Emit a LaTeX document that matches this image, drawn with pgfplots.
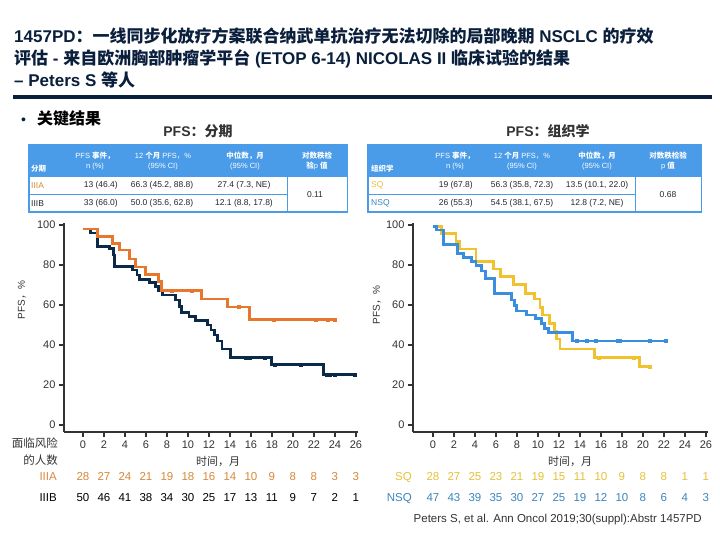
\documentclass[border=0pt]{standalone}
\usepackage{pgfplots}
\pgfplotsset{compat=1.18}
\usepackage{fontspec}
\setmainfont{Liberation Sans}
\newfontfamily\cjkf{Noto Sans CJK SC}
\newcommand\zh[1]{{\cjkf #1}}
\definecolor{navy}{HTML}{0B2A4A}
\definecolor{titlec}{HTML}{0A1F3C}
\definecolor{orangeA}{HTML}{E8772E}
\definecolor{nsq}{HTML}{3A8EE0}
\definecolor{sq}{HTML}{F2C12E}
\definecolor{tblue}{HTML}{4A9BE8}
\definecolor{axgray}{HTML}{333333}
\definecolor{iiiaText}{HTML}{D8893A}
\definecolor{sqText}{HTML}{E6C13A}
\definecolor{nsqText}{HTML}{3A86BE}
\pgfplotsset{kmaxis/.style={scale only axis, height=209pt, ymin=-3.5, ymax=101,
  axis lines=left, axis line style={-, line width=2.8pt, color=axgray},
  xtick={0,2,...,26}, ytick={0,20,...,100}, major tick length=5pt, tick align=outside,
  tick style={line width=2.2pt, color=axgray},
  tick label style={font=\fontsize{11}{11}\selectfont, text=axgray},
  /pgf/number format/assume math mode=true, clip=false,
  every axis plot/.append style={const plot}},
  risk/.style={draw=none, mark=none, nodes near coords, point meta=explicit symbolic,
  every node near coord/.append style={anchor=base, inner sep=0pt, text height=8pt, text depth=0pt, yshift=0pt, font=\fontsize{11.5}{11.5}\selectfont, text=#1}}}
\begin{document}
\begin{tikzpicture}[x=1pt,y=-1pt]
\path[use as bounding box] (0,0) rectangle (720,540);
\fill[white] (0,0) rectangle (720,540);
% title
\begin{scope}[every node/.style={anchor=base west, inner sep=0, text=titlec, font=\fontsize{17}{22}\selectfont\bfseries}]
\node at (14,43) {1457PD\zh{：一线同步化放疗方案联合纳武单抗治疗无法切除的局部晚期} NSCLC \zh{的疗效}};
\node at (14,65) {\zh{评估} - \zh{来自欧洲胸部肿瘤学平台} (ETOP 6-14) NICOLAS II \zh{临床试验的结果}};
\node at (14,87) {– Peters S \zh{等人}};
\end{scope}
\fill[titlec] (13,95) rectangle (712,99);
\node[anchor=base west, inner sep=0, font=\fontsize{14}{14}\selectfont, text=titlec] at (21,125) {•};
\node[anchor=base west, inner sep=0, font=\fontsize{16}{16}\selectfont\bfseries, text=black] at (37,125) {\zh{关键结果}};
\node[font=\fontsize{14}{14}\selectfont\bfseries, text=axgray] at (198,131) {PFS\zh{：分期}};
\node[font=\fontsize{14}{14}\selectfont\bfseries, text=axgray] at (548,131) {PFS\zh{：组织学}};
% left table
\fill[tblue] (28,144) rectangle (348,213);
\fill[white] (29.5,177) rectangle (286.5,194);
\fill[white] (29.5,195.5) rectangle (286.5,211.5);
\fill[white] (288,177) rectangle (346.5,211.5);
\begin{scope}[every node/.style={align=center, inner sep=0, text=white, font=\fontsize{7.5}{10}\selectfont}]
\node[anchor=base west] at (31,172) {\zh{\bfseries 分期}};
\node at (95,161) {PFS \zh{\bfseries 事件，}\\n (\%)};
\node at (163,161) {12 \zh{\bfseries 个月} PFS\zh{，}\%\\(95\% CI)};
\node at (245,161) {\zh{\bfseries 中位数，月}\\(95\% CI)};
\node at (317,161) {\zh{\bfseries 对数秩检}\\\zh{\bfseries 验}p \zh{\bfseries 值}};
\end{scope}
\begin{scope}[every node/.style={inner sep=0, text=black!85, font=\fontsize{8.5}{8.5}\selectfont}]
\node[anchor=west, text=iiiaText] at (31,185.5) {IIIA};
\node[anchor=east] at (118,185.5) {13 (46.4)};
\node at (162,185.5) {66.3 (45.2, 88.8)};
\node at (244,185.5) {27.4 (7.3, NE)};
\node[anchor=west] at (31,203.5) {IIIB};
\node[anchor=east] at (118,203.5) {33 (66.0)};
\node at (162,203.5) {50.0 (35.6, 62.8)};
\node at (244,203.5) {12.1 (8.8, 17.8)};
\node at (315,194.5) {0.11};
\end{scope}
% right table
\fill[tblue] (367,144) rectangle (702,213);
\fill[white] (368.5,177) rectangle (634.5,194);
\fill[white] (368.5,195.5) rectangle (634.5,211.5);
\fill[white] (636,177) rectangle (700.5,211.5);
\begin{scope}[every node/.style={align=center, inner sep=0, text=white, font=\fontsize{7.5}{10}\selectfont}]
\node[anchor=base west] at (371,172) {\zh{\bfseries 组织学}};
\node at (455,161) {PFS \zh{\bfseries 事件，}\\n (\%)};
\node at (522,161) {12 \zh{\bfseries 个月} PFS\zh{，}\%\\(95\% CI)};
\node at (597,161) {\zh{\bfseries 中位数，月}\\(95\% CI)};
\node at (668,161) {\zh{\bfseries 对数秩检验}\\p \zh{\bfseries 值}};
\end{scope}
\begin{scope}[every node/.style={inner sep=0, text=black!85, font=\fontsize{8.5}{8.5}\selectfont}]
\node[anchor=west, text=sqText] at (371,185.5) {SQ};
\node[anchor=east] at (473,185.5) {19 (67.8)};
\node at (522,185.5) {56.3 (35.8, 72.3)};
\node at (597,185.5) {13.5 (10.1, 22.0)};
\node[anchor=west, text=nsqText] at (371,203.5) {NSQ};
\node[anchor=east] at (473,203.5) {26 (55.3)};
\node at (522,203.5) {54.5 (38.1, 67.5)};
\node at (597,203.5) {12.8 (7.2, NE)};
\node at (668,194.5) {0.68};
\end{scope}
% labels
\node[rotate=90, font=\fontsize{10}{10}\selectfont, text=axgray] at (22,300) {PFS\zh{，}\%};
\node[rotate=90, font=\fontsize{10}{10}\selectfont, text=axgray] at (377,305) {PFS\zh{，}\%};
\node[font=\fontsize{11}{11}\selectfont, text=axgray] at (218,461) {\zh{时间，月}};
\node[font=\fontsize{11}{11}\selectfont, text=axgray] at (570,461) {\zh{时间，月}};
\node[anchor=east, align=right, font=\fontsize{11.5}{17}\selectfont, text=axgray, inner sep=0] at (58,452) {\zh{面临风险}\\\zh{的人数}};
\node[anchor=base east, font=\fontsize{11.5}{11.5}\selectfont, text=iiiaText, inner sep=0] at (57,480) {IIIA};
\node[anchor=base east, font=\fontsize{11.5}{11.5}\selectfont, text=black, inner sep=0] at (57,501) {IIIB};
\node[anchor=base east, font=\fontsize{11.5}{11.5}\selectfont, text=sqText, inner sep=0] at (412,480) {SQ};
\node[anchor=base east, font=\fontsize{11.5}{11.5}\selectfont, text=nsqText, inner sep=0] at (412,501) {NSQ};
\node[anchor=base east, font=\fontsize{11.5}{11.5}\selectfont, text=axgray, inner sep=0] at (702,522) {Peters S, et al. Ann Oncol 2019;30(suppl):Abstr 1457PD};
% left axis
\begin{axis}[kmaxis, at={(64pt,-432pt)}, anchor=south west, width=294pt, xmin=-1.8, xmax=26.2]
\addplot[navy, line width=2.9pt] coordinates {(0,98) (0.7,96) (1.4,89.3) (2.5,88.3) (2.9,85) (3.05,79.2) (4.7,77.5) (5.15,75) (5.4,72.8) (6.35,71.2) (6.9,69.2) (7.2,67) (7.55,65) (8.8,62.5) (9.2,59.2) (9.4,56.3) (10.1,54.2) (10.75,52.3) (11.85,50) (12.2,47.5) (12.5,45) (12.85,42) (13.25,38) (14.05,33.7) (18.0,30.3) (22.9,25.3) (25.9,25.3)};
\addplot[navy, only marks, mark=square*, mark size=1.5pt] coordinates {(15.5,33.7) (15.9,33.7) (17.3,33.7) (18.3,30.3) (20.75,30.3) (23.2,25.3) (23.5,25.3) (24.0,25.3) (25.85,25.3)};
\addplot[orangeA, line width=2.9pt] coordinates {(0,98) (1.4,94.3) (2.8,90.7) (3.5,87.5) (4.4,83) (5.0,79) (6.0,75.3) (7.2,71.7) (7.5,67.3) (11.3,63) (13.8,59) (15.9,52.8) (24.2,52.8)};
\addplot[orangeA, only marks, mark=square*, mark size=1.5pt] coordinates {(8.5,67.3) (10.4,67.3) (14.8,59) (18.2,52.8) (22.2,52.8) (23.3,52.8) (24.0,52.8)};
\addplot[risk=iiiaText] table[meta=n] {
x y n
0 -27.5 28
2 -27.5 27
4 -27.5 24
6 -27.5 21
8 -27.5 19
10 -27.5 18
12 -27.5 16
14 -27.5 14
16 -27.5 10
18 -27.5 9
20 -27.5 8
22 -27.5 8
24 -27.5 3
26 -27.5 3
};
\addplot[risk=black] table[meta=n] {
x y n
0 -38 50
2 -38 46
4 -38 41
6 -38 38
8 -38 34
10 -38 30
12 -38 25
14 -38 17
16 -38 13
18 -38 11
20 -38 9
22 -38 7
24 -38 2
26 -38 1
};
\end{axis}
% right axis
\begin{axis}[kmaxis, at={(413pt,-432pt)}, anchor=south west, width=295pt, xmin=-1.9, xmax=26.2]
\addplot[sq, line width=2.9pt] coordinates {(0,99.2) (0.8,95.8) (2.2,91.7) (2.5,88) (4.1,81.7) (5.8,78) (6.4,74.2) (7.7,70.3) (8.8,65.8) (9.7,63) (10.2,58.7) (10.4,55) (11.1,50.8) (11.6,47) (11.8,43) (12.1,38) (15.4,33.7) (19.7,29.2) (20.8,29.2)};
\addplot[sq, only marks, mark=square*, mark size=1.5pt] coordinates {(15.8,33.7) (19.1,33.7) (20.6,29.2)};
\addplot[nsq, line width=2.9pt] coordinates {(0,99.2) (0.3,97.5) (1.0,90.3) (2.3,85.8) (2.9,83.7) (3.7,81.7) (4.1,79.7) (4.6,77) (5.0,73.3) (5.9,65.8) (7.5,62.5) (7.8,59.7) (7.95,57) (8.9,55) (9.8,53.3) (10.3,50.8) (10.6,48.3) (11.0,46.3) (13.3,42) (22.2,42)};
\addplot[nsq, only marks, mark=square*, mark size=1.5pt] coordinates {(13.65,42) (14.6,42) (15.5,42) (17.6,42) (17.8,42) (20.6,42) (22.2,42)};
\addplot[risk=sqText] table[meta=n] {
x y n
0 -27.5 28
2 -27.5 27
4 -27.5 25
6 -27.5 23
8 -27.5 21
10 -27.5 19
12 -27.5 15
14 -27.5 11
16 -27.5 10
18 -27.5 9
20 -27.5 8
22 -27.5 8
24 -27.5 1
26 -27.5 1
};
\addplot[risk=nsqText] table[meta=n] {
x y n
0 -38 47
2 -38 43
4 -38 39
6 -38 35
8 -38 30
10 -38 27
12 -38 25
14 -38 19
16 -38 12
18 -38 10
20 -38 8
22 -38 6
24 -38 4
26 -38 3
};
\end{axis}
\end{tikzpicture}
\end{document}
